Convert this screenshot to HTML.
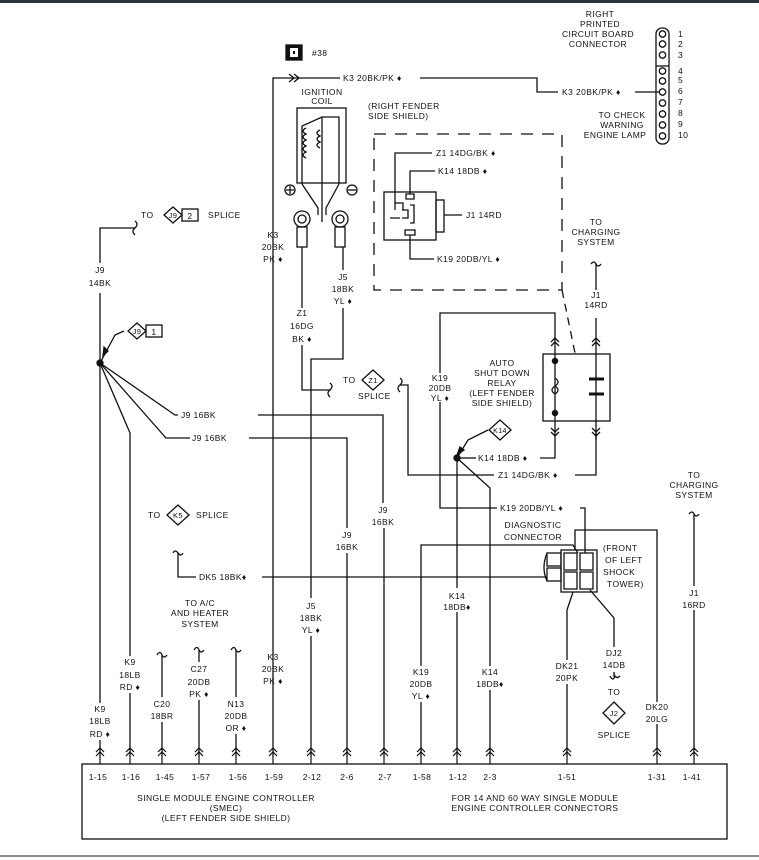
<!DOCTYPE html>
<html><head><meta charset="utf-8"><style>
html,body{margin:0;padding:0;background:#fff;}
svg{display:block;}
text{font-family:"Liberation Sans",sans-serif;font-size:8.5px;fill:#111;letter-spacing:0.4px;}
.m{text-anchor:middle;}
.e{text-anchor:end;}
</style></head><body>
<svg width="759" height="860" viewBox="0 0 759 860" xmlns="http://www.w3.org/2000/svg">
<defs><path id="c" d="M-4,0 l4,-4 l4,4 M-4,4 l4,-4 l4,4"/></defs>
<rect x="0" y="0" width="759" height="3" fill="#2a3540"/>
<line x1="0" y1="856" x2="759" y2="856" stroke="#666" stroke-width="1.5"/>
<g fill="none" stroke="#111" stroke-width="1.3">
<rect x="82" y="764" width="645" height="75"/>
<polyline points="273,757 273,78 340,78"/>
<polyline points="420,78 537,78 537,92 558,92"/>
<line x1="635" y1="92" x2="660" y2="92"/>
<path d="M289,74 L294,78 L289,82 M294,74 L299,78 L294,82"/>
<rect x="656" y="28" width="13" height="116" rx="6"/>
<line x1="656" y1="66" x2="669" y2="66"/>
<circle cx="662.5" cy="34" r="3.2"/><circle cx="662.5" cy="44" r="3.2"/><circle cx="662.5" cy="55" r="3.2"/>
<circle cx="662.5" cy="71" r="3.2"/><circle cx="662.5" cy="81" r="3.2"/><circle cx="662.5" cy="92" r="3.2"/>
<circle cx="662.5" cy="103" r="3.2"/><circle cx="662.5" cy="114" r="3.2"/><circle cx="662.5" cy="125" r="3.2"/><circle cx="662.5" cy="136" r="3.2"/>
<rect x="297" y="108" width="49" height="75"/>
<polyline points="302,184 302,126 322,117 339,117 339,184"/>
<line x1="322" y1="117" x2="322" y2="184"/>
<path d="M306,128 q-6,3 0,6 q-6,3 0,6 q-6,3 0,6 q-6,3 0,6 q-6,3 0,6"/>
<path d="M320,130 q-6,3 0,6 q-6,3 0,6 q-6,3 0,6"/>
<path d="M302,184 L318,208 L318,215 M339,184 L326,208 L326,215 M322,184 L322,222"/>
<circle cx="290" cy="190" r="5"/><path d="M286,190h8M290,186v8"/>
<circle cx="352" cy="190" r="5"/><path d="M348,190h8"/>
<circle cx="302" cy="219" r="8"/><circle cx="302" cy="219" r="4"/>
<rect x="297" y="227" width="10" height="20"/>
<circle cx="340" cy="219" r="8"/><circle cx="340" cy="219" r="4"/>
<rect x="335" y="227" width="10" height="20"/>
<polyline points="302,247 302,308"/><polyline points="302,345 302,390 330,390"/>
<path d="M330,383 q4,3 0,7 q-4,3 0,7"/>
<line x1="343" y1="247" x2="343" y2="270"/>
<polyline points="343,308 343,359 311,359 311,598"/>
<line x1="311" y1="636" x2="311" y2="757"/>
<path d="M400,378 q4,3 0,7 q-4,3 0,7"/>
<polyline points="400,385 408,385 408,475 494,475"/>
<polyline points="575,475 596,475 596,430"/>
<path d="M374,134 H562 V290 H374 Z" stroke-dasharray="12,9"/>
<path d="M562,290 L575,353" stroke-dasharray="8,6"/>
<rect x="384" y="192" width="52" height="48"/>
<rect x="436" y="200" width="8" height="32"/>
<path d="M395,210 v-7 h8 v7 M390,218 h10 M402,210 h6 v8 h-6 M410,205 h4 v18 h-4 M405,230 h10 v5 h-10 z M406,194 h8 v5 h-8z"/>
<polyline points="395,203 395,153 432,153"/>
<polyline points="410,194 410,171 435,171"/>
<line x1="444" y1="215" x2="462" y2="215"/>
<polyline points="410,235 410,259 434,259"/>
<rect x="543" y="354" width="67" height="67"/>
<line x1="555" y1="333" x2="555" y2="440"/>
<circle cx="555" cy="361" r="2.6" fill="#111"/><circle cx="555" cy="413" r="2.6" fill="#111"/>
<path d="M555,378 q6,4 0,8 q-6,4 0,8 q6,-4 0,-8" />
<line x1="596" y1="318" x2="596" y2="440"/>
<path d="M589,379h15M589,394h15" stroke-width="3"/>
<path d="M551,342 l4,-4 l4,4 M551,346 l4,-4 l4,4 M592,342 l4,-4 l4,4 M592,346 l4,-4 l4,4"/>
<path d="M551,428 l4,4 l4,-4 M551,432 l4,4 l4,-4 M592,428 l4,4 l4,-4 M592,432 l4,4 l4,-4"/>
<polyline points="555,333 555,313 440,313 440,373"/>
<polyline points="440,402 440,508 497,508"/>
<polyline points="580,508 585,508 585,553"/>
<path d="M591,264 q3,-4 5,0 q2,4 5,0"/><line x1="596" y1="264" x2="596" y2="290"/>
<circle cx="457" cy="458" r="3" fill="#111"/>
<polyline points="460,458 476,458"/><polyline points="540,458 555,458 555,440"/>
<path d="M457,458 L468,440 L488,430"/><path d="M460,447 l-3,8 l7,-5 z" fill="#111"/>
<line x1="457" y1="458" x2="457" y2="588"/><line x1="457" y1="612" x2="457" y2="757"/>
<polyline points="457,458 490,488 490,666"/><line x1="490" y1="690" x2="490" y2="757"/>
<polyline points="135,228 100,228 100,263"/>
<path d="M135,221 q4,3 0,7 q-4,3 0,7"/>
<line x1="100" y1="293" x2="100" y2="703"/>
<line x1="100" y1="740" x2="100" y2="757"/>
<circle cx="100" cy="363" r="3" fill="#111"/>
<path d="M100,363 L115,335 L124,331"/><path d="M103,356 l1,-9 l4,4 z" fill="#111"/>
<polyline points="100,363 175,415 178,415"/>
<polyline points="258,415 383,415 383,503"/><line x1="384" y1="528" x2="384" y2="757"/>
<polyline points="100,363 166,438 190,438"/>
<polyline points="249,438 347,438 347,528"/><line x1="347" y1="553" x2="347" y2="757"/>
<polyline points="100,363 130,433 130,656"/><line x1="130" y1="693" x2="130" y2="757"/>
<polyline points="178,553 178,577 196,577"/><polyline points="262,577 547,577"/>
<path d="M173,553 q2,-4 5,0 q3,4 5,0"/>
<rect x="547" y="553" width="14" height="13"/><rect x="547" y="568" width="14" height="13"/>
<rect x="561" y="550" width="36" height="42"/>
<rect x="564" y="553" width="13" height="17"/><rect x="580" y="553" width="13" height="17"/>
<rect x="564" y="572" width="13" height="17"/><rect x="580" y="572" width="13" height="17"/>
<path d="M547,553 q-6,15 0,28"/>
<polyline points="421,666 421,545 573,545 578,553"/>
<line x1="421" y1="702" x2="421" y2="757"/>
<polyline points="575,550 575,530 657,530 657,702"/>
<line x1="657" y1="724" x2="657" y2="757"/>
<polyline points="573,592 567,610 567,660"/><line x1="567" y1="684" x2="567" y2="757"/>
<polyline points="590,590 614,618 614,647"/>
<path d="M610,676 q3,6 5,0 q2,3 5,0"/><line x1="614" y1="672" x2="614" y2="677"/>
<path d="M689,514 q3,-4 5,0 q2,4 5,0"/><line x1="694" y1="514" x2="694" y2="586"/><line x1="694" y1="610" x2="694" y2="757"/>
<path d="M157,655 q3,-5 5,0 q2,4 5,0"/><line x1="162" y1="655" x2="162" y2="697"/><line x1="162" y1="722" x2="162" y2="757"/>
<path d="M194,650 q3,-5 5,0 q2,4 5,0"/><line x1="199" y1="650" x2="199" y2="662"/><line x1="199" y1="700" x2="199" y2="757"/>
<path d="M231,650 q3,-5 5,0 q2,4 5,0"/><line x1="236" y1="650" x2="236" y2="697"/><line x1="236" y1="734" x2="236" y2="757"/>
<path d="M173,207 l9,8 l-9,8 l-9,-8 z"/><rect x="182" y="209" width="16" height="12"/>
<path d="M137,323 l9,8 l-9,8 l-9,-8 z"/><rect x="146" y="325" width="16" height="12"/>
<path d="M373,370 l11,10 l-11,10 l-11,-10 z"/>
<path d="M500,420 l11,10 l-11,10 l-11,-10 z"/>
<path d="M178,505 l11,10 l-11,10 l-11,-10 z"/>
<path d="M614,702 l11,11 l-11,11 l-11,-11 z"/>
<rect x="286" y="45" width="16" height="15" fill="#111"/>
</g>
<rect x="290" y="48" width="8" height="9" fill="#fff"/>
<rect x="293" y="51" width="2" height="3" fill="#111"/>
<g fill="none" stroke="#111" stroke-width="1.2">
<use href="#c" x="100" y="752"/><use href="#c" x="130" y="752"/><use href="#c" x="162" y="752"/><use href="#c" x="199" y="752"/><use href="#c" x="236" y="752"/><use href="#c" x="273" y="752"/><use href="#c" x="311" y="752"/><use href="#c" x="347" y="752"/><use href="#c" x="384" y="752"/><use href="#c" x="421" y="752"/><use href="#c" x="457" y="752"/><use href="#c" x="490" y="752"/><use href="#c" x="567" y="752"/><use href="#c" x="657" y="752"/><use href="#c" x="694" y="752"/>
<path d="M100,757v7M130,757v7M162,757v7M199,757v7M236,757v7M273,757v7M311,757v7M347,757v7M384,757v7M421,757v7M457,757v7M490,757v7M567,757v7M657,757v7M694,757v7"/>
</g>
<text x="312" y="56">#38</text>
<text class="m" x="600" y="17">RIGHT</text>
<text class="m" x="600" y="27">PRINTED</text>
<text class="m" x="598" y="37">CIRCUIT BOARD</text>
<text class="m" x="598" y="47">CONNECTOR</text>
<g style="font-size:7px"><text x="678" y="37">1</text><text x="678" y="47">2</text><text x="678" y="58">3</text><text x="678" y="74">4</text><text x="678" y="83">5</text><text x="678" y="94">6</text><text x="678" y="105">7</text><text x="678" y="116">8</text><text x="678" y="127">9</text><text x="678" y="138">10</text></g>
<text x="343" y="81">K3 20BK/PK ♦</text>
<text x="562" y="95">K3 20BK/PK ♦</text>
<text class="m" x="622" y="118">TO CHECK</text>
<text class="m" x="622" y="128">WARNING</text>
<text class="m" x="615" y="138">ENGINE LAMP</text>
<text class="m" x="322" y="95">IGNITION</text>
<text class="m" x="322" y="104">COIL</text>
<text x="368" y="109">(RIGHT FENDER</text>
<text x="368" y="119">SIDE SHIELD)</text>
<text x="436" y="156">Z1 14DG/BK ♦</text>
<text x="438" y="174">K14 18DB ♦</text>
<text x="466" y="218">J1 14RD</text>
<text x="437" y="262">K19 20DB/YL ♦</text>
<text class="m" x="596" y="225">TO</text>
<text class="m" x="596" y="235">CHARGING</text>
<text class="m" x="596" y="245">SYSTEM</text>
<text class="m" x="596" y="298">J1</text>
<text class="m" x="596" y="308">14RD</text>
<text class="m" x="273" y="238">K3</text><text class="m" x="273" y="250">20BK</text><text class="m" x="273" y="262">PK ♦</text>
<text class="m" x="343" y="280">J5</text><text class="m" x="343" y="292">18BK</text><text class="m" x="343" y="304">YL ♦</text>
<text class="m" x="302" y="316">Z1</text><text class="m" x="302" y="329">16DG</text><text class="m" x="302" y="342">BK ♦</text>
<text x="343" y="383">TO</text><text class="m" x="373" y="383" style="font-size:7.5px">Z1</text>
<text x="358" y="399">SPLICE</text>
<text x="141" y="218">TO</text><text class="m" x="173" y="218" style="font-size:7.5px">J9</text><text class="m" x="190" y="219">2</text><text x="208" y="218">SPLICE</text>
<text class="m" x="100" y="273">J9</text><text class="m" x="100" y="286">14BK</text>
<text class="m" x="137" y="334" style="font-size:7.5px">J9</text><text class="m" x="154" y="335">1</text>
<text x="181" y="418">J9 16BK</text>
<text x="192" y="441">J9 16BK</text>
<text class="m" x="383" y="513">J9</text><text class="m" x="383" y="525">16BK</text>
<text class="m" x="347" y="538">J9</text><text class="m" x="347" y="550">16BK</text>
<text class="m" x="440" y="381">K19</text><text class="m" x="440" y="391">20DB</text><text class="m" x="440" y="401">YL ♦</text>
<text class="m" x="502" y="366">AUTO</text>
<text class="m" x="502" y="376">SHUT DOWN</text>
<text class="m" x="502" y="386">RELAY</text>
<text class="m" x="502" y="396">(LEFT FENDER</text>
<text class="m" x="502" y="406">SIDE SHIELD)</text>
<text class="m" x="500" y="433" style="font-size:7px">K14</text>
<text x="478" y="461">K14 18DB ♦</text>
<text x="498" y="478">Z1 14DG/BK ♦</text>
<text x="500" y="511">K19 20DB/YL ♦</text>
<text class="m" x="533" y="528">DIAGNOSTIC</text>
<text class="m" x="533" y="540">CONNECTOR</text>
<text x="603" y="551">(FRONT</text><text x="605" y="563">OF LEFT</text><text x="603" y="575">SHOCK</text><text x="607" y="587">TOWER)</text>
<text class="m" x="694" y="478">TO</text><text class="m" x="694" y="488">CHARGING</text><text class="m" x="694" y="498">SYSTEM</text>
<text class="m" x="694" y="596">J1</text><text class="m" x="694" y="608">16RD</text>
<text x="148" y="518">TO</text><text class="m" x="178" y="518" style="font-size:7.5px">K5</text><text x="196" y="518">SPLICE</text>
<text x="199" y="580">DK5 18BK♦</text>
<text class="m" x="200" y="606">TO A/C</text><text class="m" x="200" y="616">AND HEATER</text><text class="m" x="200" y="627">SYSTEM</text>
<text class="m" x="311" y="609">J5</text><text class="m" x="311" y="621">18BK</text><text class="m" x="311" y="633">YL ♦</text>
<text class="m" x="457" y="599">K14</text><text class="m" x="457" y="610">18DB♦</text>
<text class="m" x="130" y="665">K9</text><text class="m" x="130" y="678">18LB</text><text class="m" x="130" y="690">RD ♦</text>
<text class="m" x="100" y="712">K9</text><text class="m" x="100" y="724">18LB</text><text class="m" x="100" y="737">RD ♦</text>
<text class="m" x="162" y="707">C20</text><text class="m" x="162" y="719">18BR</text>
<text class="m" x="199" y="672">C27</text><text class="m" x="199" y="685">20DB</text><text class="m" x="199" y="697">PK ♦</text>
<text class="m" x="236" y="707">N13</text><text class="m" x="236" y="719">20DB</text><text class="m" x="236" y="731">OR ♦</text>
<text class="m" x="273" y="660">K3</text><text class="m" x="273" y="672">20BK</text><text class="m" x="273" y="684">PK ♦</text>
<text class="m" x="421" y="675">K19</text><text class="m" x="421" y="687">20DB</text><text class="m" x="421" y="699">YL ♦</text>
<text class="m" x="490" y="675">K14</text><text class="m" x="490" y="687">18DB♦</text>
<text class="m" x="567" y="669">DK21</text><text class="m" x="567" y="681">20PK</text>
<text class="m" x="614" y="656">DJ2</text><text class="m" x="614" y="668">14DB</text>
<text class="m" x="614" y="695">TO</text><text class="m" x="614" y="716" style="font-size:7.5px">J2</text><text class="m" x="614" y="738">SPLICE</text>
<text class="m" x="657" y="710">DK20</text><text class="m" x="657" y="722">20LG</text>
<g style="font-size:8px">
<text class="m" x="98" y="780">1-15</text><text class="m" x="131" y="780">1-16</text><text class="m" x="165" y="780">1-45</text><text class="m" x="201" y="780">1-57</text><text class="m" x="238" y="780">1-56</text><text class="m" x="274" y="780">1-59</text><text class="m" x="312" y="780">2-12</text><text class="m" x="347" y="780">2-6</text><text class="m" x="385" y="780">2-7</text><text class="m" x="422" y="780">1-58</text><text class="m" x="458" y="780">1-12</text><text class="m" x="490" y="780">2-3</text><text class="m" x="567" y="780">1-51</text><text class="m" x="657" y="780">1-31</text><text class="m" x="692" y="780">1-41</text>
</g>
<text class="m" x="226" y="801">SINGLE MODULE ENGINE CONTROLLER</text>
<text class="m" x="226" y="811">(SMEC)</text>
<text class="m" x="226" y="821">(LEFT FENDER SIDE SHIELD)</text>
<text class="m" x="535" y="801">FOR 14 AND 60 WAY SINGLE MODULE</text>
<text class="m" x="535" y="811">ENGINE CONTROLLER CONNECTORS</text>
</svg>
</body></html>
